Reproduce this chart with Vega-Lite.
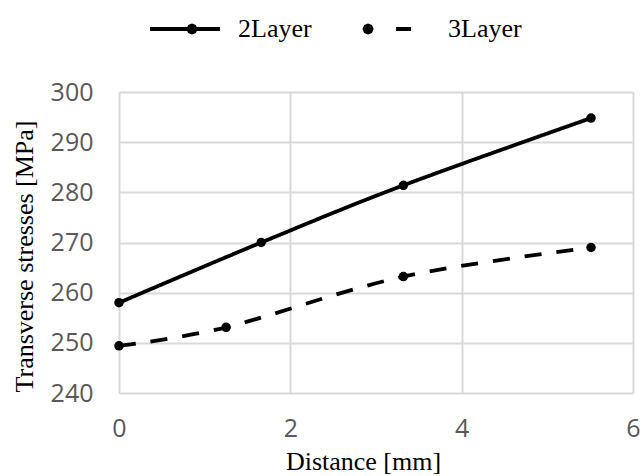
{
  "$schema": "https://vega.github.io/schema/vega-lite/v6.json",
  "width": 514,
  "height": 301,
  "autosize": "none",
  "padding": {"left": 119, "top": 92, "right": 11, "bottom": 83},
  "background": "white",
  "config": {"view": {"stroke": null}},
  "data": {
    "values": [
      {"series": "2Layer", "distance": 0, "stress": 258.0},
      {"series": "2Layer", "distance": 1.66, "stress": 270.0},
      {"series": "2Layer", "distance": 3.32, "stress": 281.4},
      {"series": "2Layer", "distance": 5.51, "stress": 294.8},
      {"series": "3Layer", "distance": 0, "stress": 249.4},
      {"series": "3Layer", "distance": 1.25, "stress": 253.1},
      {"series": "3Layer", "distance": 3.32, "stress": 263.2},
      {"series": "3Layer", "distance": 5.51, "stress": 269.0}
    ]
  },
  "encoding": {
    "x": {
      "field": "distance",
      "type": "quantitative",
      "scale": {"domain": [0, 6], "nice": false, "zero": false},
      "axis": {
        "title": "Distance [mm]",
        "values": [0, 2, 4, 6],
        "grid": true,
        "gridColor": "#d9d9d9",
        "gridWidth": 2,
        "domain": false,
        "ticks": false,
        "labelFont": "Open Sans",
        "labelFontSize": 25,
        "labelColor": "#595959",
        "labelPadding": 23,
        "labelFlush": false,
        "titleFont": "Liberation Serif",
        "titleFontSize": 26,
        "titleFontWeight": "normal",
        "titleColor": "black",
        "titleX": 244,
        "titleY": 76,
        "titleAlign": "center",
        "titleBaseline": "alphabetic"
      }
    },
    "y": {
      "field": "stress",
      "type": "quantitative",
      "scale": {"domain": [240, 300], "nice": false, "zero": false},
      "axis": {
        "title": "Transverse stresses [MPa]",
        "values": [240, 250, 260, 270, 280, 290, 300],
        "grid": true,
        "gridColor": "#d9d9d9",
        "gridWidth": 2,
        "domain": false,
        "ticks": false,
        "labelFont": "Open Sans",
        "labelFontSize": 25,
        "labelColor": "#595959",
        "labelPadding": 26,
        "labelFlush": false,
        "titleFont": "Liberation Serif",
        "titleFontSize": 26,
        "titleFontWeight": "normal",
        "titleColor": "black",
        "titleAngle": -90,
        "titleX": -87,
        "titleY": 164,
        "titleAlign": "center",
        "titleBaseline": "alphabetic"
      }
    }
  },
  "layer": [
    {
      "mark": {"type": "line", "interpolate": "cardinal", "strokeWidth": 3.8, "color": "black"},
      "encoding": {
        "detail": {"field": "series", "type": "nominal"},
        "strokeDash": {
          "field": "series",
          "type": "nominal",
          "scale": {"domain": ["2Layer", "3Layer"], "range": [[1, 0], [17, 15]]},
          "legend": null
        }
      }
    },
    {
      "mark": {"type": "point", "filled": true, "size": 90, "color": "black", "opacity": 1},
      "encoding": {"detail": {"field": "series", "type": "nominal"}}
    },
    {
      "mark": {"type": "point", "filled": false, "color": "black", "size": 0},
      "encoding": {
        "shape": {
          "field": "series",
          "type": "nominal",
          "scale": {
            "range": [
              "M-1,0H1M0.3,0L0.271,0.071L0.2,0.1L0.129,0.071L0.1,0L0.129,-0.071L0.2,-0.1L0.271,-0.071ZM0.25,0L0.235,0.035L0.2,0.05L0.165,0.035L0.15,0L0.165,-0.035L0.2,-0.05L0.235,-0.035Z",
              "M-0.67,0L-0.699,0.071L-0.77,0.1L-0.841,0.071L-0.87,0L-0.841,-0.071L-0.77,-0.1L-0.699,-0.071ZM-0.72,0L-0.735,0.035L-0.77,0.05L-0.805,0.035L-0.82,0L-0.805,-0.035L-0.77,-0.05L-0.735,-0.035ZM0.03,0H0.46"
            ]
          },
          "legend": {
            "title": null,
            "orient": "none",
            "legendX": 29,
            "legendY": -100,
            "direction": "horizontal",
            "padding": 0,
            "symbolSize": 4900,
            "symbolOpacity": 1,
            "symbolFillColor": "black",
            "symbolStrokeColor": "black",
            "symbolStrokeWidth": 3.8,
            "labelFont": "Liberation Serif",
            "labelFontSize": 26,
            "labelColor": "black",
            "labelOffset": 16,
            "columnPadding": 44
          }
        }
      }
    }
  ]
}
